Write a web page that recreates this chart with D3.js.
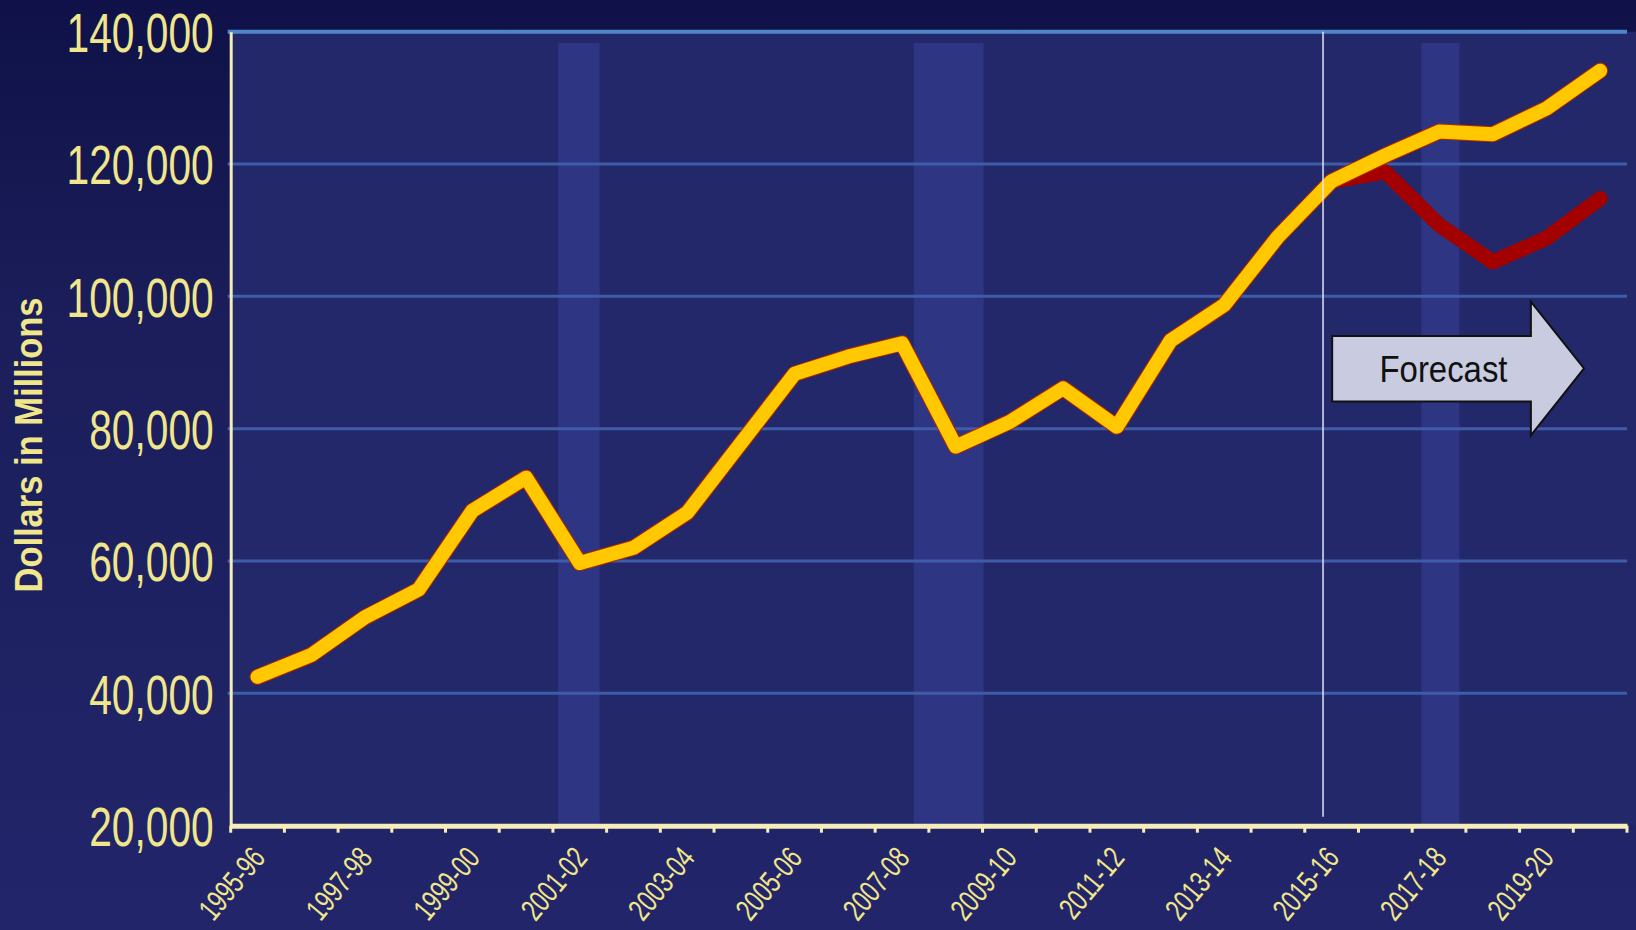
<!DOCTYPE html>
<html>
<head>
<meta charset="utf-8">
<script src="https://cdn.jsdelivr.net/npm/d3@7/dist/d3.min.js"></script>
<style>
  html, body { margin: 0; padding: 0; background: #161a52; }
  svg { display: block; }
</style>
</head>
<body>
<div id="chart"></div>
<script>
// ===================================================================

const YEARS = [
  '1995-96', '1996-97', '1997-98', '1998-99', '1999-00', '2000-01',
  '2001-02', '2002-03', '2003-04', '2004-05', '2005-06', '2006-07',
  '2007-08', '2008-09', '2009-10', '2010-11', '2011-12', '2012-13',
  '2013-14', '2014-15', '2015-16', '2016-17', '2017-18', '2018-19',
  '2019-20', '2020-21'
]

// main forecast (yellow)
const BASE = [
  42500, 45800, 51500, 55700, 67600, 72600, 59700, 62000, 67300, 77800,
  88300, 90900, 92900, 77300, 81000, 86100, 80300, 93300, 98700, 109000,
  117400, 121300, 124900, 124500, 128400, 134100
]

// recession scenario (red), only from 2015-16
const RECESSION = [
  null, null, null, null, null, null, null, null, null, null,
  null, null, null, null, null, null, null, null, null, null,
  117400, 118800, 110800, 105200, 108800, 114800
]

const Y_TICKS = [20000, 40000, 60000, 80000, 100000, 120000, 140000]

// shaded recession periods, in fiscal-year units from 1995-96
const RECESSION_PERIODS = [[6.1, 6.87], [12.72, 14.02], [22.17, 22.88]]
const FORECAST_START = 20.34

// ===================================================================

const WIDTH = 1636
const HEIGHT = 930

const PLOT_LEFT = 230.7
const PLOT_RIGHT = 1627
const PLOT_TOP = 31.7
const PLOT_BOTTOM = 825.7

const FONT = '"Liberation Sans", Arial, sans-serif'
const TEXT_COLOR = '#f0e68c'
const AXIS_COLOR = '#f6edb8'

// no narrow font installed: squeeze the glyphs instead
const condense = (sel, k) => {
  sel.each(function () {
    const len = this.getComputedTextLength()
    if (len > 0) {
      d3.select(this)
        .attr('textLength', len * k)
        .attr('lengthAdjust', 'spacingAndGlyphs')
    }
  })
}

// ===================================================================

const x = d3.scaleBand()
  .domain(YEARS)
  .range([PLOT_LEFT, PLOT_RIGHT])
  .padding(0)

const xu = u => PLOT_LEFT + u * x.step()
const xc = year => x(year) + x.bandwidth() / 2

const y = d3.scaleLinear()
  .domain([20000, 140000])
  .range([PLOT_BOTTOM, PLOT_TOP])

const svg = d3.select('#chart')
  .append('svg')
    .attr('width', WIDTH)
    .attr('height', HEIGHT)

const defs = svg.append('defs')
const grad = defs.append('linearGradient')
  .attr('id', 'bg')
  .attr('x1', 0).attr('y1', 0)
  .attr('x2', 0).attr('y2', 1)
grad.append('stop').attr('offset', 0).attr('stop-color', '#0f1148')
grad.append('stop').attr('offset', 0.35).attr('stop-color', '#1b1e5a')
grad.append('stop').attr('offset', 1).attr('stop-color', '#22256a')

svg.append('rect')
  .attr('width', WIDTH)
  .attr('height', HEIGHT)
  .attr('fill', 'url(#bg)')

// plot area
svg.append('rect')
  .attr('x', PLOT_LEFT)
  .attr('y', PLOT_TOP)
  .attr('width', WIDTH - PLOT_LEFT)
  .attr('height', PLOT_BOTTOM - PLOT_TOP)
  .attr('fill', '#23286a')

// recession bars
svg.append('g')
  .selectAll('rect')
  .data(RECESSION_PERIODS)
  .join('rect')
    .attr('x', d => xu(d[0]))
    .attr('width', d => xu(d[1]) - xu(d[0]))
    .attr('y', y(138300))
    .attr('height', PLOT_BOTTOM - y(138300))
    .attr('fill', '#2e3583')

// gridlines
svg.append('g')
  .selectAll('line')
  .data(Y_TICKS.filter(d => d > 20000))
  .join('line')
    .attr('x1', PLOT_LEFT - 3)
    .attr('x2', PLOT_RIGHT)
    .attr('y1', d => y(d))
    .attr('y2', d => y(d))
    .attr('stroke', d => d === 140000 ? '#4f86c8' : '#3f5ca8')
    .attr('stroke-width', d => d === 140000 ? 4 : 3)

// y axis
const yAxis = svg.append('g')
  .attr('transform', `translate(${PLOT_LEFT}, 0)`)
  .call(d3.axisLeft(y)
    .tickValues(Y_TICKS)
    .tickFormat(d3.format(','))
    .tickSize(0)
    .tickPadding(17))
yAxis.select('.domain')
  .attr('stroke', AXIS_COLOR)
  .attr('stroke-width', 3)
yAxis.selectAll('text')
  .attr('fill', TEXT_COLOR)
  .attr('font-family', FONT)
  .attr('font-size', 55)
  .attr('dy', '0.36em')
  .call(condense, 0.74)

svg.append('text')
  .attr('transform', 'translate(42, 445) rotate(-90)')
  .attr('text-anchor', 'middle')
  .attr('fill', TEXT_COLOR)
  .attr('font-family', FONT)
  .attr('font-weight', 'bold')
  .attr('font-size', 39)
  .attr('textLength', 295)
  .attr('lengthAdjust', 'spacingAndGlyphs')
  .text('Dollars in Millions')

// x axis
const xAxis = svg.append('g')
  .attr('transform', `translate(0, ${PLOT_BOTTOM})`)
  .call(d3.axisBottom(x)
    .tickFormat((d, i) => i % 2 === 0 ? d : '')
    .tickSize(0)
    .tickSizeOuter(0))
xAxis.select('.domain')
  .attr('stroke', AXIS_COLOR)
  .attr('stroke-width', 5)
xAxis.selectAll('text')
  .attr('fill', TEXT_COLOR)
  .attr('font-family', FONT)
  .attr('font-size', 31)
  .attr('text-anchor', 'end')
  .attr('x', 0)
  .attr('y', 0)
  .attr('dy', 0)
  .attr('transform', 'translate(9, 33) rotate(-50)')
  .call(condense, 0.73)

xAxis.append('g')
  .selectAll('line')
  .data(d3.range(YEARS.length + 1))
  .join('line')
    .attr('x1', d => xu(d))
    .attr('x2', d => xu(d))
    .attr('y1', 0)
    .attr('y2', 7)
    .attr('stroke', AXIS_COLOR)
    .attr('stroke-width', 3)

// lines
const line = d3.line()
  .defined(d => d[1] != null)
  .x(d => xc(d[0]))
  .y(d => y(d[1]))

svg.append('path')
  .datum(d3.zip(YEARS, RECESSION))
  .attr('d', line)
  .attr('fill', 'none')
  .attr('stroke', '#a30000')
  .attr('stroke-width', 15)
  .attr('stroke-linejoin', 'round')
  .attr('stroke-linecap', 'round')

const base = d3.zip(YEARS, BASE)
svg.append('path')
  .datum(base)
  .attr('d', line)
  .attr('fill', 'none')
  .attr('stroke', '#b02a00')
  .attr('stroke-width', 16)
  .attr('stroke-linejoin', 'round')
  .attr('stroke-linecap', 'round')
svg.append('path')
  .datum(base)
  .attr('d', line)
  .attr('fill', 'none')
  .attr('stroke', '#ffc800')
  .attr('stroke-width', 14)
  .attr('stroke-linejoin', 'round')
  .attr('stroke-linecap', 'round')

// forecast divider
svg.append('line')
  .attr('x1', xu(FORECAST_START))
  .attr('x2', xu(FORECAST_START))
  .attr('y1', PLOT_TOP)
  .attr('y2', PLOT_BOTTOM - 9)
  .attr('stroke', '#e4e4f4')
  .attr('stroke-opacity', 0.75)
  .attr('stroke-width', 2)

// forecast arrow
const ARROW_BODY = [20.51, 24.21]
const ARROW_TIP = 25.2
const arrowPts = [
  [ARROW_BODY[0], 94000], [ARROW_BODY[1], 94000], [ARROW_BODY[1], 99200],
  [ARROW_TIP, 89100],
  [ARROW_BODY[1], 79000], [ARROW_BODY[1], 84100], [ARROW_BODY[0], 84100]
]
svg.append('path')
  .attr('d', d3.line().x(d => xu(d[0])).y(d => y(d[1]))(arrowPts) + 'Z')
  .attr('fill', '#c9cbe0')
  .attr('stroke', '#111')
  .attr('stroke-width', 2)

svg.append('text')
  .attr('x', (xu(ARROW_BODY[0]) + xu(ARROW_BODY[1])) / 2 + 12)
  .attr('y', y(89100))
  .attr('dy', '0.36em')
  .attr('text-anchor', 'middle')
  .attr('font-family', FONT)
  .attr('font-size', 37)
  .attr('textLength', 128)
  .attr('lengthAdjust', 'spacingAndGlyphs')
  .attr('fill', '#111')
  .text('Forecast')
</script>
</body>
</html>
